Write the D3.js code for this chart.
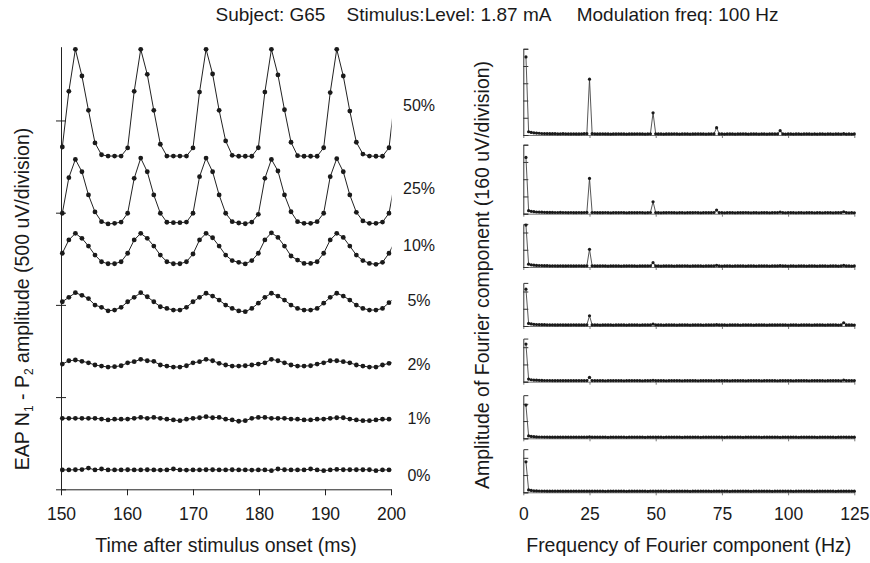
<!DOCTYPE html>
<html><head><meta charset="utf-8">
<script src="https://cdn.jsdelivr.net/npm/d3@7"></script>
<style>
body{margin:0;background:#fff}
svg{display:block}
text{font-family:"Liberation Sans",Arial,Helvetica,sans-serif;fill:#1a1a1a}
</style>
</head><body><svg id="c" width="870" height="563"></svg>
<script>
// ---------------- DATA ----------------
const title = "Subject: G65    Stimulus:Level: 1.87 mA     Modulation freq: 100 Hz";
const levels = ["50%","25%","10%","5%","2%","1%","0%"];
const labelLevels = [2084,1634,1325,1022,679,387,78];   // uV where each level label sits
const timeTicks = [150,160,170,180,190,200];
const ampTicks = [0,500,1000,1500,2000];
const sampleStart = 150.2, samplePeriod = 0.99;        // ms

// EAP N1-P2 amplitude traces (uV, stacked as plotted)
const eap50 = [1856,2158,2386,2241,2055,1878,1814,1807,1807,1807,
1851,2158,2386,2250,2055,1871,1807,1807,1807,1807,
1851,2154,2386,2252,2055,1889,1811,1806,1806,1806,
1852,2154,2386,2247,2058,1882,1809,1806,1806,1806,
1852,2151,2386,2241,2051,1882,1818,1807,1806,1806,
1852,2155];
const eap25 = [1497,1690,1789,1722,1596,1504,1451,1439,1442,1449,
1497,1686,1796,1722,1596,1497,1448,1446,1446,1449,
1497,1695,1796,1722,1596,1497,1451,1444,1440,1449,
1491,1686,1789,1726,1596,1505,1451,1442,1442,1451,
1497,1695,1793,1722,1596,1502,1455,1442,1442,1449,
1497,1690];
const eap10 = [1280,1352,1388,1361,1319,1270,1234,1223,1223,1234,
1280,1352,1388,1361,1319,1270,1234,1223,1223,1234,
1276,1352,1388,1364,1319,1270,1240,1231,1222,1240,
1280,1352,1391,1366,1319,1265,1243,1225,1225,1234,
1280,1352,1388,1366,1319,1270,1240,1225,1220,1231,
1280,1352];
const eap5 = [1017,1041,1066,1052,1034,999,987,968,972,987,
1017,1041,1066,1044,1017,990,981,972,972,987,
1017,1041,1063,1048,1026,999,981,967,963,981,
1009,1041,1063,1048,1026,999,981,972,972,981,
1009,1041,1063,1048,1026,999,981,972,972,981,
1012,1041];
const eap2 = [679,697,701,694,686,674,668,663,665,670,
686,692,705,697,694,674,668,663,663,670,
686,692,705,697,683,674,668,668,670,674,
679,686,705,697,686,674,668,668,670,679,
686,697,697,692,686,674,668,663,663,674,
683,692];
const eap1 = [385,385,385,385,385,385,381,376,380,380,
381,385,390,385,390,385,380,376,372,380,
385,388,394,388,390,380,376,369,372,385,
390,390,385,385,385,381,380,376,376,380,
381,385,388,388,381,376,372,372,376,380,
380,383];
const eap0 = [105,105,106,107,115,105,110,105,105,105,
106,105,105,106,105,104,105,110,105,104,
105,105,106,106,105,105,106,105,105,104,
105,105,101,110,106,105,105,105,110,105,
101,105,108,106,106,106,106,106,101,105,
105,105];
const eapSeries = [eap50,eap25,eap10,eap5,eap2,eap1,eap0];

// Fourier amplitude spectra (uV), bins 1..125 Hz
const freqTicks = [0,25,50,75,100,125];
const specStep = 160;
const specMax = [800,640,400,400,400,400,400];
const spec50 = [724,30,24,20,18,16,14,13,13,12,12,12,11,11,12,11,11,10,11,10,10,11,12,12,518,
12,11,10,10,11,10,10,9,10,10,11,10,10,9,10,10,10,11,10,10,9,10,11,206,11,
10,10,9,10,10,10,11,10,9,10,10,10,9,10,10,11,10,10,9,10,10,10,68,10,10,
9,10,10,10,9,10,10,11,10,9,10,10,10,9,10,10,9,10,10,10,10,40,10,9,10,
10,9,10,10,9,10,10,10,9,10,9,10,10,9,10,10,9,10,10,9,12,9,10,9,10];
const spec25 = [522,28,22,19,16,15,14,13,12,12,12,11,11,12,11,11,10,11,10,10,11,10,11,12,327,
11,11,10,10,10,11,10,9,10,10,10,11,10,9,10,10,10,10,11,10,9,10,11,111,10,
10,9,10,10,11,10,10,9,10,10,9,10,10,10,11,10,9,10,10,10,10,11,34,10,10,
9,10,10,10,9,10,10,10,11,10,9,10,10,9,10,10,10,9,10,10,10,14,10,9,10,
10,10,9,10,10,9,10,10,10,9,10,10,9,10,10,10,9,10,10,10,18,10,9,10,9];
const spec10 = [389,26,20,17,15,14,13,12,12,11,11,11,10,11,10,10,11,10,10,10,11,10,10,11,164,
11,10,10,10,11,10,9,10,10,10,10,9,10,10,11,10,10,9,10,10,10,10,11,40,10,
10,9,10,10,10,10,9,10,10,10,11,10,9,10,10,10,10,9,10,10,10,10,16,10,9,
10,10,10,9,10,10,10,10,9,10,10,10,9,10,10,10,10,9,10,10,10,12,10,10,9,
10,10,9,10,10,10,9,10,10,10,9,10,10,10,9,10,10,10,9,10,15,10,10,9,10];
const spec5 = [342,24,19,16,14,13,12,12,11,11,11,10,10,11,10,10,10,10,11,10,10,10,10,11,95,
10,10,10,9,10,10,10,10,9,10,10,10,10,9,10,10,10,10,9,10,10,10,10,18,10,
10,10,9,10,10,10,10,9,10,10,10,10,9,10,10,10,10,9,10,10,10,10,12,10,10,
10,9,10,10,10,10,9,10,10,10,10,9,10,10,10,10,9,10,10,10,10,11,10,10,9,
10,10,10,9,10,10,10,10,9,10,10,10,10,9,10,10,10,10,9,10,30,10,10,10,9];
const spec2 = [349,24,18,15,14,13,12,11,11,11,10,10,10,10,10,10,10,10,10,10,10,10,10,10,41,
10,10,10,10,10,9,10,10,10,10,10,10,9,10,10,10,10,10,10,9,10,10,10,13,10,
10,10,10,9,10,10,10,10,10,9,10,10,10,10,10,9,10,10,10,10,10,9,11,10,10,
10,10,9,10,10,10,10,10,9,10,10,10,10,10,9,10,10,10,10,10,9,10,10,10,10,
10,9,10,10,10,10,10,9,10,10,10,10,10,9,10,10,10,10,10,9,15,10,10,10,10];
const spec1 = [308,22,17,15,13,12,12,11,11,10,10,10,10,10,10,10,10,10,10,10,10,10,10,10,13,
10,10,10,10,10,10,9,10,10,10,10,10,10,9,10,10,10,10,10,10,9,10,10,10,10,
10,10,9,10,10,10,10,10,10,9,10,10,10,10,10,10,9,10,10,10,10,10,10,10,10,
9,10,10,10,10,10,10,9,10,10,10,10,10,10,9,10,10,10,10,10,10,9,10,10,10,
10,10,10,9,10,10,10,10,10,10,9,10,10,10,10,10,10,9,10,10,11,10,10,10,10];
const spec0 = [283,22,17,14,13,12,11,11,10,10,10,10,10,10,10,10,10,10,10,10,10,10,10,10,10,
10,10,10,10,10,9,10,10,10,10,10,10,10,9,10,10,10,10,10,10,10,9,10,10,10,
10,10,10,10,9,10,10,10,10,10,10,10,9,10,10,10,10,10,10,10,9,10,10,10,10,
10,10,9,10,10,10,10,10,10,10,9,10,10,10,10,10,10,10,9,10,10,10,10,10,10,
10,9,10,10,10,10,10,10,10,9,10,10,10,10,10,10,10,9,10,10,10,10,10,10,10];
const specSeries = [spec50,spec25,spec10,spec5,spec2,spec1,spec0];

// ---------------- LAYOUT ----------------
const svg = d3.select("#c");
const FONT = '"Liberation Sans",Arial,Helvetica,sans-serif';
const L = {x0:61, x1:391, yTop:46.7, yBot:489.3};
const R = {x0:523.3, x1:854.3, divPx:17.25, bottoms:[135,213.7,267,326,381.7,438.3,492.3]};
const TICK_FS = 17.5, LABEL_FS = 19.5;

// Title
svg.append("text").attr("x",497).attr("y",21).attr("text-anchor","middle")
  .attr("font-size",19).style("white-space","pre").text(title);

// ---------- LEFT PANEL ----------
const xL = d3.scaleLinear().domain([150,200]).range([L.x0,L.x1]);
const yL = d3.scaleLinear().domain([0,2400]).range([L.yBot,L.yTop]);

svg.append("clipPath").attr("id","clipL").append("rect")
  .attr("x",0).attr("y",0).attr("width",L.x1+0.6).attr("height",563);

const gx = svg.append("g").attr("transform",`translate(0,${L.yBot})`)
  .call(d3.axisBottom(xL).tickValues(timeTicks).tickSize(6).tickSizeOuter(0).tickPadding(12.5));
const gy = svg.append("g").attr("transform",`translate(${L.x0},0)`)
  .call(d3.axisLeft(yL).tickValues(ampTicks).tickSize(5).tickSizeOuter(0).tickFormat(""));
gy.selectAll(".tick line").attr("x1",5);
[gx,gy].forEach(g=>{
  g.attr("font-family",FONT).attr("font-size",TICK_FS);
  g.selectAll("path,line").attr("stroke","#222");
  g.selectAll("text").attr("fill","#1a1a1a");
});

const tOf = i => sampleStart + i*samplePeriod;
const lineL = d3.line().x((d,i)=>xL(tOf(i))).y(d=>yL(d));
const gTr = svg.append("g").attr("clip-path","url(#clipL)");
eapSeries.forEach((s)=>{
  gTr.append("path").attr("d",lineL(s)).attr("fill","none")
    .attr("stroke","#222").attr("stroke-width",1);
  gTr.selectAll(null).data(s.map((v,i)=>({t:tOf(i),v})).filter(d=>d.t<=200)).join("circle")
    .attr("cx",d=>xL(d.t)).attr("cy",d=>yL(d.v)).attr("r",2.4).attr("fill","#1a1a1a");
});

svg.selectAll("text.lvl").data(levels).join("text").attr("class","lvl")
  .attr("x",419).attr("y",(d,i)=>yL(labelLevels[i])).attr("dy","0.35em")
  .attr("text-anchor","middle").attr("font-size",16).text(d=>d);

svg.append("text").attr("x",(L.x0+L.x1)/2).attr("y",552).attr("text-anchor","middle")
  .attr("font-size",LABEL_FS).text("Time after stimulus onset (ms)");

const yl = svg.append("text").attr("transform","translate(29,299) rotate(-90)")
  .attr("text-anchor","middle").attr("font-size",LABEL_FS);
yl.append("tspan").text("EAP N");
yl.append("tspan").attr("font-size",12).attr("dy",4).text("1");
yl.append("tspan").attr("dy",-4).text(" - P");
yl.append("tspan").attr("font-size",12).attr("dy",4).text("2");
yl.append("tspan").attr("dy",-4).text(" amplitude (500 uV/division)");

// ---------- RIGHT PANEL ----------
const xR = d3.scaleLinear().domain([0,125]).range([R.x0,R.x1]);
specSeries.forEach((s,k)=>{
  const bot = R.bottoms[k];
  const yR = d3.scaleLinear().domain([0,specMax[k]]).range([bot, bot - specMax[k]/specStep*R.divPx]);
  const last = k===specSeries.length-1;
  const ax = svg.append("g").attr("transform",`translate(0,${bot})`)
    .call(d3.axisBottom(xR).tickValues(freqTicks).tickSize(3).tickSizeOuter(0).tickPadding(12.5)
      .tickFormat(last ? d3.format("d") : ""));
  ax.attr("font-family",FONT).attr("font-size",TICK_FS);
  ax.selectAll("path,line").attr("stroke","#777");
  ax.selectAll("text").attr("fill","#1a1a1a");
  const ay = svg.append("g").attr("transform",`translate(${R.x0},0)`)
    .call(d3.axisRight(yR).tickValues(d3.range(0,specMax[k]+1,specStep)).tickSize(5).tickSizeOuter(5).tickFormat(""));
  ay.selectAll("path,line").attr("stroke","#333");
  const pts = s.map((v,i)=>({f:i+1,v}));
  svg.append("path").attr("d",d3.line().x(d=>xR(d.f)).y(d=>yR(d.v))(pts))
    .attr("fill","none").attr("stroke","#444").attr("stroke-width",0.9);
  svg.append("g").selectAll("circle").data(pts).join("circle")
    .attr("cx",d=>xR(d.f)).attr("cy",d=>yR(d.v)).attr("r",1.6).attr("fill","#1a1a1a");
});

svg.append("text").attr("x",(R.x0+R.x1)/2).attr("y",552).attr("text-anchor","middle")
  .attr("font-size",LABEL_FS).text("Frequency of Fourier component (Hz)");
svg.append("text").attr("transform","translate(489,275) rotate(-90)")
  .attr("text-anchor","middle").attr("font-size",LABEL_FS)
  .text("Amplitude of Fourier component (160 uV/division)");
</script>
</body></html>
